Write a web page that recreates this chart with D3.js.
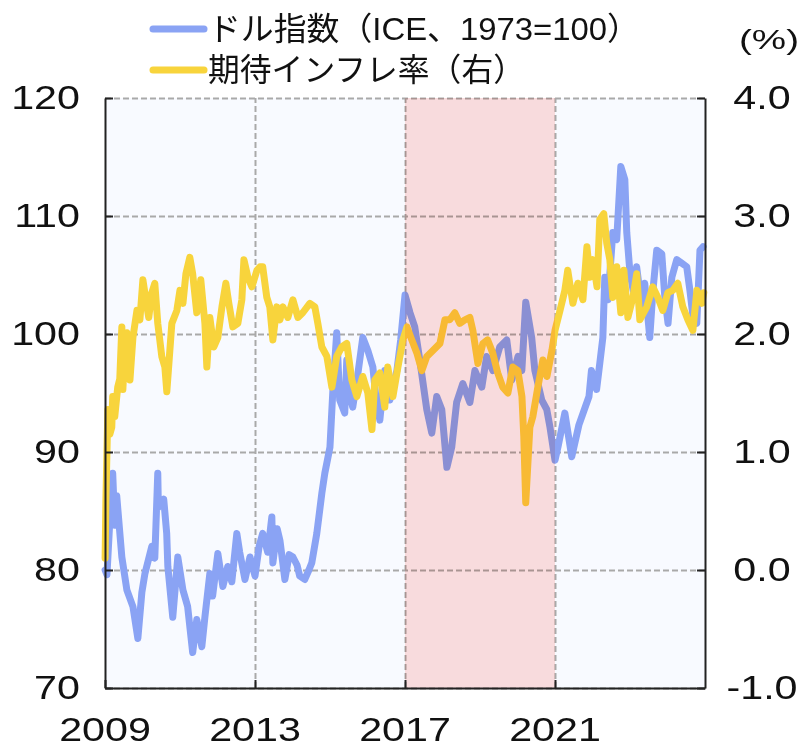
<!DOCTYPE html>
<html>
<head>
<meta charset="utf-8">
<script src="https://cdn.jsdelivr.net/npm/d3@7"></script>
<style>
  body { margin: 0; background: #fff; }
  text { font-family: "Liberation Sans", "Noto Sans CJK JP", sans-serif; fill: #111; }
</style>
</head>
<body>
<div id="chart"></div>
<script>
// ドル指数 (ICE, 1973=100)
const dollarDates = [
  '2009-01-02','2009-01-20','2009-02-28','2009-03-17','2009-04-06','2009-04-25','2009-06-14','2009-08-02',
  '2009-09-30','2009-11-17','2009-12-26','2010-01-25','2010-04-02','2010-05-01','2010-05-30','2010-06-05',
  '2010-07-27','2010-08-25','2010-09-05','2010-10-23','2010-12-11','2011-01-30','2011-03-17','2011-05-05',
  '2011-06-14','2011-08-02','2011-09-01','2011-10-19','2011-11-15','2012-01-05','2012-02-23','2012-04-11',
  '2012-05-20','2012-07-08','2012-08-05','2012-09-25','2012-11-13','2013-01-01','2013-02-10','2013-03-17',
  '2013-05-05','2013-06-14','2013-06-24','2013-08-05','2013-09-01','2013-10-19','2013-11-30','2014-01-05',
  '2014-02-15','2014-03-12','2014-05-01','2014-06-10','2014-07-08','2014-08-26','2014-10-14','2014-11-12',
  '2015-01-01','2015-01-30','2015-03-08','2015-04-06','2015-05-25','2015-06-14','2015-07-10','2015-08-11',
  '2015-09-28','2015-11-17','2016-01-05','2016-02-23','2016-03-25','2016-05-01','2016-06-18','2016-08-06',
  '2016-10-14','2016-11-20','2017-01-01','2017-02-19','2017-04-06','2017-05-25','2017-08-01','2017-09-19',
  '2017-11-06','2017-12-25','2018-02-13','2018-04-01','2018-05-19','2018-07-18','2018-09-25','2018-11-13',
  '2019-01-19','2019-03-07','2019-05-07','2019-07-13','2019-09-19','2019-11-07','2020-01-07','2020-02-13',
  '2020-03-22','2020-05-19','2020-06-19','2020-08-25','2020-10-13','2020-11-13','2021-01-01','2021-02-01',
  '2021-04-07','2021-06-13','2021-08-22','2021-11-28','2021-12-22','2022-02-10','2022-03-13','2022-04-12',
  '2022-05-01','2022-06-01','2022-07-18','2022-08-25','2022-10-04','2022-11-12','2022-12-01','2023-01-01',
  '2023-02-01','2023-03-07','2023-04-25','2023-05-25','2023-07-13','2023-08-13','2023-09-19','2023-11-07',
  '2023-12-07','2024-01-07','2024-02-13','2024-04-01','2024-05-19','2024-07-07','2024-08-07','2024-09-07',
  '2024-10-13','2024-11-13','2024-12-13'
];
const dollarValues = [
  80.0, 79.6, 86.0, 88.2, 83.8, 86.3, 81.1, 78.3,
  76.9, 74.2, 78.1, 79.7, 82.0, 81.0, 88.2, 85.3,
  86.0, 83.1, 80.3, 76.0, 81.1, 78.3, 76.9, 73.0,
  75.8, 73.5, 76.0, 79.7, 77.8, 81.4, 78.6, 80.3,
  79.0, 83.1, 81.5, 79.2, 81.1, 79.5, 82.0, 83.1,
  81.5, 84.5, 80.6, 83.5, 82.5, 79.2, 81.3, 81.1,
  80.4, 79.5, 79.2, 80.0, 80.6, 83.1, 86.5, 88.2,
  90.4, 95.3, 100.1, 94.4, 93.3, 97.8, 95.0, 93.8,
  96.5, 99.7, 98.6, 97.2, 94.5, 92.7, 96.9, 94.4,
  96.9, 99.5, 103.3, 101.8, 100.6, 97.8, 93.6, 91.6,
  94.7, 93.6, 88.7, 90.4, 94.2, 95.8, 94.2, 96.9,
  95.5, 98.1, 96.9, 98.9, 99.5, 96.1, 98.1, 96.9,
  102.7, 99.7, 96.9, 94.4, 93.6, 92.1, 89.3, 90.5,
  93.3, 89.6, 92.3, 94.7, 96.9, 95.3, 97.5, 99.7,
  104.8, 102.9, 108.6, 108.0, 114.2, 113.1, 108.6, 105.2,
  103.7, 105.7, 102.3, 104.3, 99.7, 103.7, 107.1, 106.8,
  103.1, 100.9, 104.8, 106.3, 106.0, 105.7, 103.7, 101.4,
  100.9, 107.1, 107.4
];

// 期待インフレ率 (右軸, %)
const bepDates = [
  '2009-01-02','2009-01-10','2009-01-20','2009-01-29','2009-02-17','2009-03-08','2009-03-17','2009-04-06',
  '2009-05-05','2009-05-25','2009-06-14','2009-06-24','2009-07-12','2009-08-02','2009-09-01','2009-09-30',
  '2009-11-08','2009-12-07','2010-01-05','2010-02-14','2010-03-03','2010-04-02','2010-05-01','2010-05-30',
  '2010-07-08','2010-08-07','2010-08-26','2010-10-14','2010-12-02','2011-01-01','2011-01-30','2011-02-28',
  '2011-04-07','2011-05-05','2011-06-14','2011-07-23','2011-09-01','2011-09-20','2011-10-19','2011-11-27',
  '2012-01-05','2012-02-14','2012-03-23','2012-04-21','2012-05-30','2012-07-18','2012-08-26','2012-09-15',
  '2012-10-24','2012-12-02','2013-01-20','2013-02-19','2013-03-17','2013-04-26','2013-05-25','2013-06-24',
  '2013-08-02','2013-09-01','2013-09-30','2013-11-17','2014-01-05','2014-02-23','2014-04-11','2014-06-19',
  '2014-08-07','2014-09-05','2014-10-14','2014-12-02','2015-01-20','2015-03-08','2015-04-26','2015-06-14',
  '2015-08-02','2015-09-20','2015-11-17','2016-01-05','2016-02-14','2016-03-13','2016-05-01','2016-06-18',
  '2016-07-17','2016-09-05','2016-10-24','2016-12-12','2017-01-20','2017-03-08','2017-04-26','2017-06-14',
  '2017-08-02','2017-09-30','2017-12-07','2018-01-25','2018-03-13','2018-05-01','2018-06-19','2018-08-07',
  '2018-09-25','2018-10-24','2018-12-12','2019-01-30','2019-03-17','2019-05-05','2019-06-23','2019-08-11',
  '2019-09-30','2019-11-17','2020-01-05','2020-02-14','2020-03-03','2020-03-22','2020-05-01','2020-05-30',
  '2020-07-18','2020-09-05','2020-10-14','2020-12-02','2021-01-01','2021-02-19','2021-04-07','2021-05-05',
  '2021-06-24','2021-08-11','2021-09-30','2021-11-08','2021-12-07','2022-01-05','2022-02-14','2022-03-13',
  '2022-04-21','2022-05-20','2022-06-19','2022-07-18','2022-08-26','2022-10-04','2022-11-03','2022-12-12',
  '2023-01-30','2023-03-08','2023-04-07','2023-06-14','2023-08-11','2023-09-30','2023-11-17','2024-01-05',
  '2024-02-23','2024-04-11','2024-05-30','2024-07-18','2024-09-05','2024-10-14','2024-12-02','2024-12-20'
];
const bepValues = [
  0.10, 0.60, 1.00, 1.36, 1.15, 1.21, 1.47, 1.30,
  1.55, 1.62, 2.06, 1.53, 1.85, 2.01, 1.61, 1.97,
  2.20, 2.12, 2.46, 2.23, 2.14, 2.35, 2.43, 2.09,
  1.81, 1.72, 1.51, 2.09, 2.20, 2.37, 2.26, 2.51,
  2.65, 2.51, 2.18, 2.46, 2.09, 1.72, 2.14, 1.89,
  1.97, 2.23, 2.43, 2.26, 2.06, 2.09, 2.29, 2.63,
  2.48, 2.40, 2.54, 2.57, 2.57, 2.31, 2.23, 1.95,
  2.23, 2.12, 2.23, 2.14, 2.29, 2.14, 2.18, 2.26,
  2.23, 2.09, 1.89, 1.81, 1.55, 1.81, 1.89, 1.92,
  1.61, 1.47, 1.64, 1.50, 1.19, 1.61, 1.67, 1.38,
  1.72, 1.47, 1.72, 1.95, 2.06, 1.95, 1.84, 1.69,
  1.81, 1.86, 1.92, 2.12, 2.12, 2.18, 2.09, 2.12,
  2.14, 2.03, 1.75, 1.92, 1.95, 1.84, 1.67, 1.55,
  1.50, 1.72, 1.69, 1.47, 1.13, 0.57, 1.21, 1.30,
  1.55, 1.78, 1.64, 1.86, 2.03, 2.20, 2.37, 2.54,
  2.26, 2.43, 2.29, 2.74, 2.48, 2.63, 2.40, 2.97,
  3.02, 2.77, 2.63, 2.31, 2.57, 2.18, 2.54, 2.14,
  2.31, 2.51, 2.12, 2.23, 2.40, 2.31, 2.20, 2.35,
  2.37, 2.43, 2.23, 2.12, 2.03, 2.37, 2.26, 2.35
];

const yearTicks = ['2009', '2013', '2017', '2021'];
const leftTicks = [70, 80, 90, 100, 110, 120];
const rightTicks = [-1, 0, 1, 2, 3, 4];
const shadeRange = ['2017-01-01', '2021-01-01'];
const legendLabels = ['ドル指数（ICE、1973=100）', '期待インフレ率（右）'];
const unitLabel = '(%)';

const width = 808;
const height = 748;
const margin = {top: 98, right: 103, bottom: 60, left: 105};
const colors = {dollar: '#8aa3f4', bep: '#f8d43c'};

const parse = d3.timeParse('%Y-%m-%d');
const zip = (dates, values) => dates.map((d, i) => ({date: parse(d), value: values[i]}));

const dollar = zip(dollarDates, dollarValues);
const bep = zip(bepDates, bepValues);

const svg = d3.select('#chart').append('svg')
  .attr('width', width)
  .attr('height', height);

const x = d3.scaleTime()
  .domain([parse('2009-01-01'), parse('2025-01-01')])
  .range([margin.left, width - margin.right]);

const yL = d3.scaleLinear()
  .domain([70, 120])
  .range([height - margin.bottom, margin.top]);

const yR = d3.scaleLinear()
  .domain([-1, 4])
  .range([height - margin.bottom, margin.top]);

const plotW = width - margin.right - margin.left;
const plotB = height - margin.bottom;

// plot background
svg.append('rect')
  .attr('x', margin.left)
  .attr('y', margin.top)
  .attr('width', plotW)
  .attr('height', plotB - margin.top)
  .attr('fill', '#f8faff');

// grid
const gridStyle = g => g.selectAll('line')
  .attr('stroke', '#a9a9a9').attr('stroke-width', 2).attr('stroke-dasharray', '6,3');

svg.append('g')
  .attr('transform', `translate(${margin.left},0)`)
  .call(d3.axisLeft(yL).tickValues(leftTicks).tickSize(-plotW).tickFormat(''))
  .call(g => g.select('.domain').remove())
  .call(gridStyle);

svg.append('g')
  .attr('transform', `translate(0,${plotB})`)
  .call(d3.axisBottom(x).tickValues(yearTicks.slice(1).map(y => parse(y + '-01-01'))).tickSize(-(plotB - margin.top)).tickFormat(''))
  .call(g => g.select('.domain').remove())
  .call(gridStyle);

// lines
const lineL = d3.line().x(d => x(d.date)).y(d => yL(d.value));
const lineR = d3.line().x(d => x(d.date)).y(d => yR(d.value));

svg.append('path')
  .datum(dollar)
  .attr('d', lineL)
  .attr('fill', 'none')
  .attr('stroke', colors.dollar)
  .attr('stroke-width', 7)
  .attr('stroke-linejoin', 'round')
  .attr('stroke-linecap', 'round');

svg.append('path')
  .datum(bep)
  .attr('d', lineR)
  .attr('fill', 'none')
  .attr('stroke', colors.bep)
  .attr('stroke-width', 7)
  .attr('stroke-linejoin', 'round')
  .attr('stroke-linecap', 'round');

// shaded period, multiplied over the lines
const s0 = x(parse(shadeRange[0]));
const s1 = x(parse(shadeRange[1]));
svg.append('rect')
  .attr('x', s0)
  .attr('y', margin.top)
  .attr('width', s1 - s0)
  .attr('height', plotB - margin.top)
  .attr('fill', '#ffe0dd')
  .style('mix-blend-mode', 'multiply');

// axes
const tickStyle = g => g.selectAll('line').attr('stroke', '#222').attr('stroke-width', 2);

svg.append('g')
  .attr('transform', `translate(${margin.left},0)`)
  .call(d3.axisLeft(yL).tickValues(leftTicks).tickSizeInner(-8).tickSizeOuter(0).tickFormat(''))
  .call(g => g.select('.domain').attr('stroke', '#222').attr('stroke-width', 2))
  .call(tickStyle);

svg.append('g')
  .attr('transform', `translate(${width - margin.right},0)`)
  .call(d3.axisRight(yR).tickValues(rightTicks).tickSizeInner(-8).tickSizeOuter(0).tickFormat(''))
  .call(g => g.select('.domain').attr('stroke', '#222').attr('stroke-width', 2))
  .call(tickStyle);

svg.append('g')
  .attr('transform', `translate(0,${plotB})`)
  .call(d3.axisBottom(x).tickValues(yearTicks.map(y => parse(y + '-01-01'))).tickSizeInner(-8).tickSizeOuter(0).tickFormat(''))
  .call(g => g.select('.domain').attr('stroke', '#222').attr('stroke-width', 2))
  .call(tickStyle);

// tick labels (stretched a little horizontally like the source)
const stretch = 1.25;
const label = (tx, ty, text, anchor) =>
  svg.append('text')
    .attr('transform', `translate(${tx},${ty}) scale(${stretch},1)`)
    .attr('text-anchor', anchor)
    .attr('dominant-baseline', 'central')
    .attr('font-size', 33)
    .text(text);

leftTicks.forEach(v => label(80, yL(v), v, 'end'));
rightTicks.forEach(v => label(762, yR(v), v.toFixed(1), 'middle'));
yearTicks.forEach(y => label(x(parse(y + '-01-01')), 730, y, 'middle'));

// legend
const legendLen = [432, 317];
const legend = svg.append('g');
[colors.dollar, colors.bep].forEach((c, i) => {
  const ly = 29 + i * 41;
  legend.append('line')
    .attr('x1', 153).attr('x2', 204)
    .attr('y1', ly).attr('y2', ly)
    .attr('stroke', c)
    .attr('stroke-width', 7)
    .attr('stroke-linecap', 'round');
  legend.append('text')
    .attr('x', 208)
    .attr('y', ly)
    .attr('dominant-baseline', 'central')
    .attr('font-size', 32)
    .attr('textLength', legendLen[i])
    .attr('lengthAdjust', 'spacingAndGlyphs')
    .text(legendLabels[i]);
});

svg.append('text')
  .attr('x', 739)
  .attr('y', 40)
  .attr('dominant-baseline', 'central')
  .attr('font-size', 27)
  .attr('textLength', 60)
  .attr('lengthAdjust', 'spacingAndGlyphs')
  .text(unitLabel);
</script>
</body>
</html>
